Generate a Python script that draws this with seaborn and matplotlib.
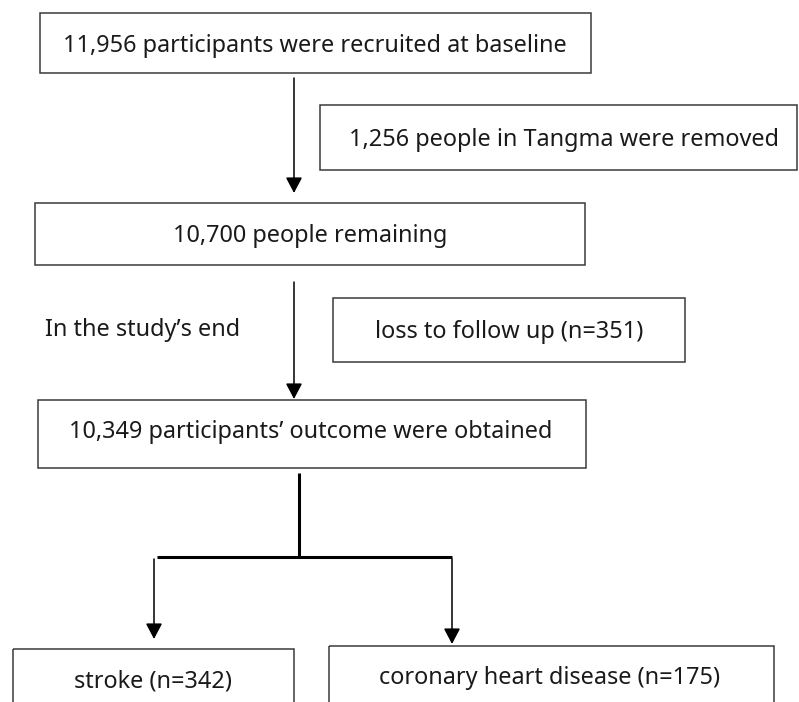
"""Study flow chart: recruitment, exclusions and outcomes."""

import matplotlib
matplotlib.use("Agg")
import matplotlib.pyplot as plt
from matplotlib.patches import Rectangle, FancyArrowPatch
import seaborn as sns

# box texts (top to bottom)
box_labels = [
    "11,956 participants were recruited at baseline",
    "1,256 people in Tangma were removed",
    "10,700 people remaining",
    "loss to follow up (n=351)",
    "10,349 participants\u2019 outcome were obtained",
    "stroke (n=342)",
    "coronary heart disease (n=175)",
]
side_note = "In the study\u2019s end"

# layout in pixel units (x0, x1, y0, y1), origin top-left
box_x0 = [40, 320, 35, 333, 38, 13, 329]
box_x1 = [591, 797, 585, 685, 586, 294, 774]
box_y0 = [13, 105, 203, 298, 400, 649, 646]
box_y1 = [73, 170, 265, 362, 468, 715, 715]
text_x = [315, 564, 310, 509, 311, 153, 550]
text_y = [43, 137, 233, 329, 430, 679, 676]

# arrows: (x, y_start, y_end)
arrow_x = [294, 294, 154, 452]
arrow_y0 = [78, 282, 559, 559]
arrow_y1 = [193, 399, 639, 644]

W, H = 799, 702

sns.set_theme(style="white")
plt.rcParams["font.family"] = ["Noto Sans", "DejaVu Sans"]

fig = plt.figure(figsize=(W / 100, H / 100), dpi=100)
ax = fig.add_axes([0, 0, 1, 1])
ax.set_xlim(0, W)
ax.set_ylim(H, 0)
ax.axis("off")

txt_kw = dict(fontsize=16.9, color="#1a1a1a")
half_cap = 8.5  # baseline sits this far below the visual centre

for lab, x0, x1, y0, y1, tx, ty in zip(box_labels, box_x0, box_x1, box_y0,
                                      box_y1, text_x, text_y):
    ax.add_patch(Rectangle((x0, y0), x1 - x0, y1 - y0, fill=False,
                           edgecolor="#3a3a3a", linewidth=1.1))
    ax.text(tx, ty + half_cap, lab, ha="center", va="baseline", **txt_kw)

ax.text(45, 328 + half_cap, side_note, ha="left", va="baseline", **txt_kw)

for x, y0, y1 in zip(arrow_x, arrow_y0, arrow_y1):
    ax.add_patch(FancyArrowPatch((x, y0), (x, y1),
                                 arrowstyle="-|>,head_length=9.5,head_width=5",
                                 mutation_scale=1, shrinkA=0, shrinkB=0,
                                 color="black", linewidth=1.1))

# splitter to the two outcome boxes
ax.plot([299, 299], [473, 557], color="black", linewidth=2.2, solid_capstyle="butt")
ax.plot([157, 452], [557, 557], color="black", linewidth=2.2, solid_capstyle="butt")

fig.savefig("out.png", dpi=100)
plt.close(fig)
